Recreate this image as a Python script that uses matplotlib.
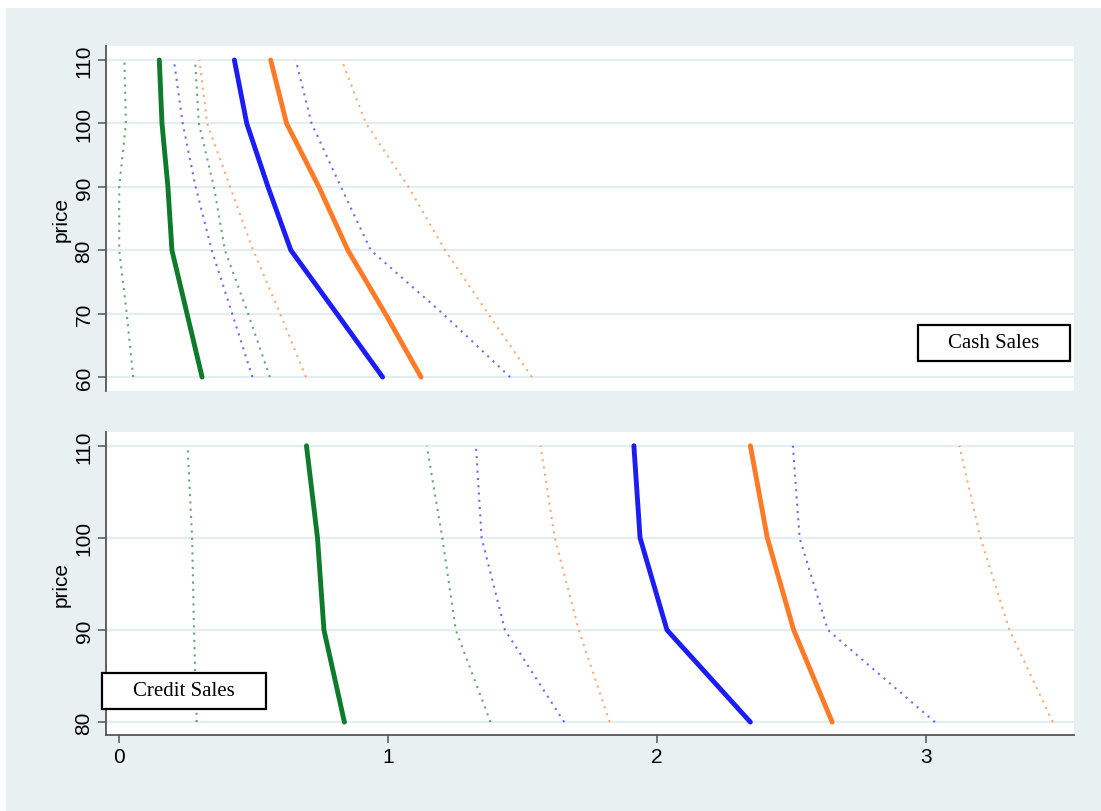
import matplotlib.pyplot as plt
from matplotlib.patches import Rectangle

# price levels
cash_price = [60, 70, 80, 90, 100, 110]
credit_price = [80, 90, 100, 110]

# cash sales (top panel)
cash_green = [0.309, 0.253, 0.197, 0.182, 0.160, 0.150]
cash_green_lo = [0.053, 0.029, 0.001, 0.001, 0.026, 0.020]
cash_green_hi = [0.561, 0.480, 0.394, 0.353, 0.297, 0.283]
cash_blue = [0.980, 0.810, 0.639, 0.554, 0.475, 0.429]
cash_blue_lo = [0.496, 0.421, 0.345, 0.285, 0.237, 0.204]
cash_blue_hi = [1.454, 1.204, 0.936, 0.825, 0.716, 0.657]
cash_orange = [1.123, 0.990, 0.851, 0.743, 0.623, 0.564]
cash_orange_lo = [0.695, 0.599, 0.499, 0.413, 0.328, 0.299]
cash_orange_hi = [1.535, 1.372, 1.212, 1.076, 0.918, 0.828]

# credit sales (bottom panel)
credit_green = [0.838, 0.762, 0.738, 0.697]
credit_green_lo = [0.289, 0.279, 0.272, 0.255]
credit_green_hi = [1.381, 1.252, 1.202, 1.144]
credit_blue = [2.347, 2.037, 1.937, 1.914]
credit_blue_lo = [1.655, 1.435, 1.348, 1.327]
credit_blue_hi = [3.033, 2.635, 2.530, 2.505]
credit_orange = [2.651, 2.508, 2.410, 2.347]
credit_orange_lo = [1.824, 1.709, 1.620, 1.567]
credit_orange_hi = [3.471, 3.310, 3.202, 3.124]

GREEN = "#0e7a2c"
BLUE = "#1c1cf5"
ORANGE = "#ff7a26"
BG = "#e8f0f2"
GRID = "#e4edf0"
SPINE = "#555555"
W, H = 1101, 812

plt.rcParams["font.family"] = ["Liberation Sans", "DejaVu Sans"]

fig = plt.figure(figsize=(W / 100, H / 100), dpi=100, facecolor="white")
fig.patches.append(Rectangle((6 / W, -0.01), 1.02, 1.01 - 9 / H, transform=fig.transFigure,
                             facecolor=BG, edgecolor="none", zorder=-10))

ax_top = fig.add_axes([0.0963, 0.5172, 0.8792, 0.4249])
ax_bot = fig.add_axes([0.0963, 0.0936, 0.8792, 0.3732])


def draw_panel(ax, price, series):
    for solid, lo, hi, color in series:
        ax.plot(lo, price, color=color, lw=1.5, alpha=0.65, linestyle=(0, (1, 2.5)))
        ax.plot(hi, price, color=color, lw=1.5, alpha=0.65, linestyle=(0, (1, 2.5)))
    for solid, lo, hi, color in series:
        ax.plot(solid, price, color=color, lw=3.5, solid_capstyle="round")


draw_panel(ax_top, cash_price, [
    (cash_green, cash_green_lo, cash_green_hi, GREEN),
    (cash_blue, cash_blue_lo, cash_blue_hi, BLUE),
    (cash_orange, cash_orange_lo, cash_orange_hi, ORANGE),
])
draw_panel(ax_bot, credit_price, [
    (credit_green, credit_green_lo, credit_green_hi, GREEN),
    (credit_blue, credit_blue_lo, credit_blue_hi, BLUE),
    (credit_orange, credit_orange_lo, credit_orange_hi, ORANGE),
])

for ax, ticks, ylim in [(ax_top, cash_price, (57.8, 112.2)), (ax_bot, credit_price, (78.6, 111.5))]:
    ax.set_facecolor("white")
    ax.set_xlim(-0.048, 3.55)
    ax.set_ylim(*ylim)
    ax.set_yticks(ticks)
    ax.set_yticklabels([str(t) for t in ticks], rotation=90, va="center", fontsize=15)
    ax.yaxis.grid(True, color=GRID, lw=1.6)
    ax.set_axisbelow(True)
    for side in ["top", "right"]:
        ax.spines[side].set_visible(False)
    ax.spines["left"].set_color(SPINE)
    ax.spines["left"].set_linewidth(1.3)
    ax.tick_params(axis="y", length=6, width=1.1, color=SPINE, pad=3)
    ax.set_ylabel("price", fontsize=15, labelpad=3)

ax_top.spines["bottom"].set_visible(False)
ax_top.set_xticks([])

ax_bot.spines["bottom"].set_color(SPINE)
ax_bot.spines["bottom"].set_linewidth(1.3)
ax_bot.set_xticks([0, 1, 2, 3])
ax_bot.set_xticklabels(["0", "1", "2", "3"], fontsize=15)
ax_bot.tick_params(axis="x", length=6, width=1.1, color=SPINE, pad=3)


def label_box(x0, y0, x1, y1, text):
    # pixel box from the top-left corner of the image
    fig.patches.append(Rectangle((x0 / W, 1 - y1 / H), (x1 - x0) / W, (y1 - y0) / H,
                                 transform=fig.transFigure, facecolor="white",
                                 edgecolor="black", lw=1.6, zorder=5))
    fig.text((x0 + x1) / 2 / W, 1 - (y0 + y1) / 2 / H, text, ha="center", va="center",
             fontsize=15, family=["Liberation Serif", "DejaVu Serif"], zorder=6)


label_box(918, 326, 1070, 362, "Cash Sales")
label_box(102, 674, 266, 710, "Credit Sales")

fig.savefig("out.png", dpi=100, facecolor=fig.get_facecolor())
